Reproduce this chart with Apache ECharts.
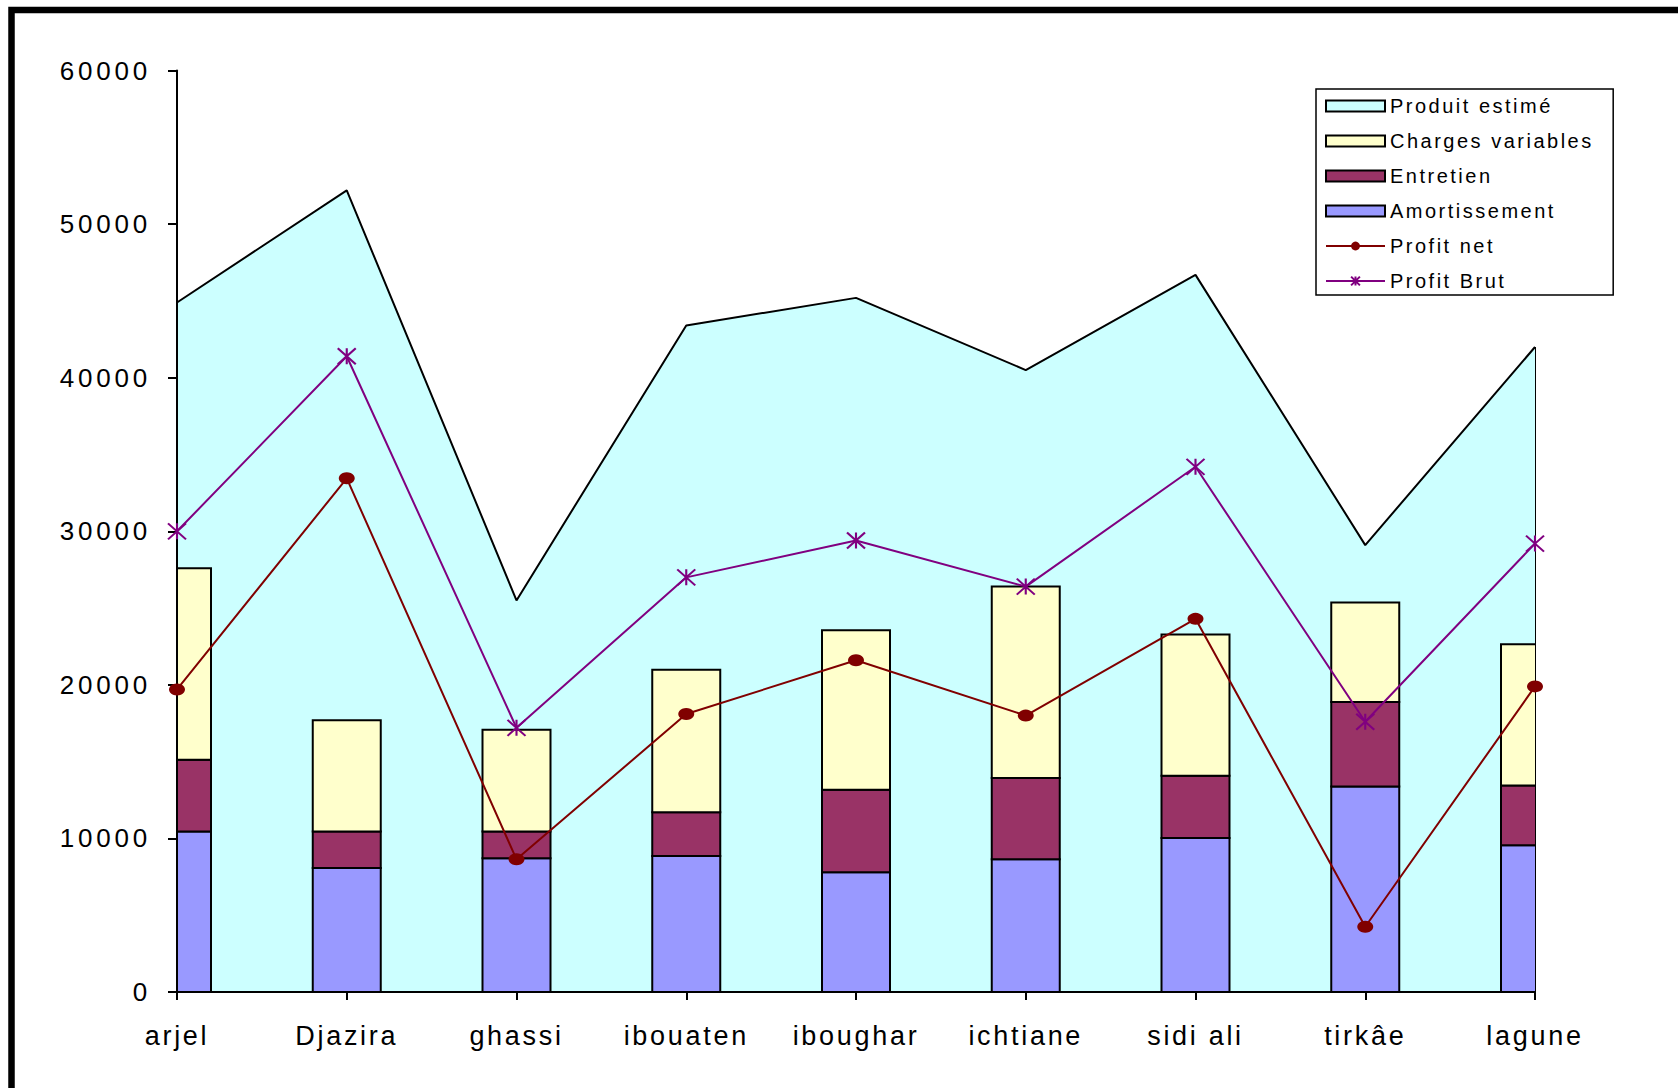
<!DOCTYPE html>
<html>
<head>
<meta charset="utf-8">
<title>Produit estimé, charges et profits par site</title>
<script src="https://cdn.jsdelivr.net/npm/echarts@6/dist/echarts.min.js"></script>
<style>
  html, body { margin: 0; padding: 0; background: #fff; }
  #chart { width: 1678px; height: 1088px; }
  /* spaced-out lettering for all chart texts */
  #chart text { letter-spacing: 2.7px; }
  #chart text[style*="26px"] { letter-spacing: 3.8px; }
  #chart text[style*="20px"] { letter-spacing: 2.5px; }
</style>
</head>
<body>
<div id="chart"></div>
<script>
// Sites
const categories = ['arjel', 'Djazira', 'ghassi', 'ibouaten', 'iboughar', 'ichtiane', 'sidi ali', 'tirkâe', 'lagune'];

// Estimated product (area)
const produitEstime = [44900, 52200, 25500, 43400, 45200, 40500, 46700, 29100, 42000];

// Stacked cost components (bars)
const amortissement = [10450, 8080, 8710, 8850, 7800, 8640, 10030, 13380, 9550];
const entretien = [4670, 2370, 1740, 2860, 5370, 5300, 4050, 5510, 3900];
const chargesVariables = [12480, 7250, 6620, 9270, 10380, 12470, 9200, 6480, 9200];

// Profits (lines)
const profitNet = [19700, 33450, 8640, 18100, 21600, 18000, 24300, 4250, 19900];
const profitBrut = [30000, 41400, 17200, 27000, 29400, 26400, 34200, 17600, 29200];

// Value axis ticks
const yMin = 0, yMax = 60000, yStep = 10000;

const FONT = '"Liberation Sans", Arial, sans-serif';
const BAR_WIDTH = 68;
const lastCat = categories[categories.length - 1];
const lastProduit = produitEstime[produitEstime.length - 1];

const chart = echarts.init(document.getElementById('chart'), null, {
  renderer: 'svg', width: 1678, height: 1088
});

const barStyle = (color) => ({ color: color, borderColor: '#000', borderWidth: 2 });

// Stack bases for the cost components
const zeros = categories.map(() => 0);
const baseEntretien = amortissement.slice();
const baseCharges = amortissement.map((v, i) => v + entretien[i]);

// A stacked bar segment drawn on the category ticks, cut at the plot edges
function stackedSegment(name, values, bases, color) {
  return {
    name: name,
    type: 'custom',
    z: 2,
    itemStyle: barStyle(color),
    data: values.map((v, i) => [i, bases[i], bases[i] + v]),
    encode: { x: 0, y: [1, 2] },
    renderItem: function (params, api) {
      const i = api.value(0);
      const bottom = api.coord([i, api.value(1)]);
      const top = api.coord([i, api.value(2)]);
      const cs = params.coordSys;
      return {
        type: 'rect',
        shape: {
          x: bottom[0] - BAR_WIDTH / 2,
          y: top[1],
          width: BAR_WIDTH,
          height: bottom[1] - top[1]
        },
        clipPath: {
          type: 'rect',
          shape: { x: cs.x, y: cs.y - 2, width: cs.width, height: cs.height + 4 }
        },
        style: api.style({ fill: color, stroke: '#000', lineWidth: 2 })
      };
    }
  };
}

chart.setOption({
  animation: false,
  backgroundColor: '#fff',
  textStyle: { fontFamily: FONT, color: '#000' },
  grid: { left: 177, right: 143, top: 70.6, bottom: 96, containLabel: false },
  xAxis: {
    type: 'category',
    data: categories,
    boundaryGap: false,
    z: 10,
    axisLine: { lineStyle: { color: '#000', width: 2 } },
    axisTick: { show: true, interval: 0, length: 8, lineStyle: { color: '#000', width: 2 } },
    axisLabel: { interval: 0, fontSize: 27, color: '#000', margin: 30, fontFamily: FONT },
    splitLine: { show: false }
  },
  yAxis: {
    type: 'value',
    min: yMin, max: yMax, interval: yStep,
    z: 10,
    axisLine: { show: true, lineStyle: { color: '#000', width: 2 } },
    axisTick: { show: true, length: 9, lineStyle: { color: '#000', width: 2 } },
    axisLabel: {
      fontSize: 26, color: '#000', margin: 26, fontFamily: FONT,
      formatter: (v) => String(v)
    },
    splitLine: { show: false }
  },
  legend: {
    orient: 'vertical',
    left: 1316, top: 89,
    padding: [6, 62, 3, 9],
    itemWidth: 59, itemHeight: 11,
    itemGap: 13, itemTextGap: 8,
    backgroundColor: '#fff',
    borderColor: '#000', borderWidth: 1.5, borderRadius: 0,
    textStyle: { fontSize: 20, color: '#000', fontFamily: FONT, lineHeight: 22 },
    z: 30,
    data: [
      { name: 'Produit estimé', icon: 'rect', itemStyle: barStyle('#CCFFFF') },
      { name: 'Charges variables', icon: 'rect', itemStyle: barStyle('#FFFFCC') },
      { name: 'Entretien', icon: 'rect', itemStyle: barStyle('#993366') },
      { name: 'Amortissement', icon: 'rect', itemStyle: barStyle('#9999FF') },
      { name: 'Profit net' },
      { name: 'Profit Brut' }
    ]
  },
  graphic: [{
    type: 'rect',
    silent: true,
    z: 50,
    shape: { x: 11.5, y: 10, width: 3000, height: 3000 },
    style: { fill: 'none', stroke: '#000', lineWidth: 6.5 }
  }],
  series: [
    {
      name: 'Produit estimé',
      type: 'line',
      data: produitEstime,
      z: 1,
      symbol: 'none',
      showSymbol: false,
      lineStyle: { color: '#000', width: 2 },
      itemStyle: { color: '#CCFFFF' },
      areaStyle: { color: '#CCFFFF', opacity: 1 },
      markLine: {
        silent: true,
        z: 1,
        symbol: ['none', 'none'],
        label: { show: false },
        lineStyle: { color: '#000', width: 2, type: 'solid' },
        data: [[{ coord: [lastCat, 0] }, { coord: [lastCat, lastProduit] }]]
      }
    },
    stackedSegment('Amortissement', amortissement, zeros, '#9999FF'),
    stackedSegment('Entretien', entretien, baseEntretien, '#993366'),
    stackedSegment('Charges variables', chargesVariables, baseCharges, '#FFFFCC'),
    {
      name: 'Profit net',
      type: 'line',
      data: profitNet,
      z: 20,
      symbol: 'circle',
      symbolSize: [16, 12],
      lineStyle: { color: '#800000', width: 2 },
      itemStyle: { color: '#800000' }
    },
    {
      name: 'Profit Brut',
      type: 'line',
      data: profitBrut,
      z: 20,
      symbol: 'path://M0,0L10,10M10,0L0,10M5,0L5,10',
      symbolSize: [18, 16],
      lineStyle: { color: '#800080', width: 2 },
      itemStyle: { color: '#800080', borderColor: '#800080', borderWidth: 2 }
    }
  ]
});
</script>
</body>
</html>
